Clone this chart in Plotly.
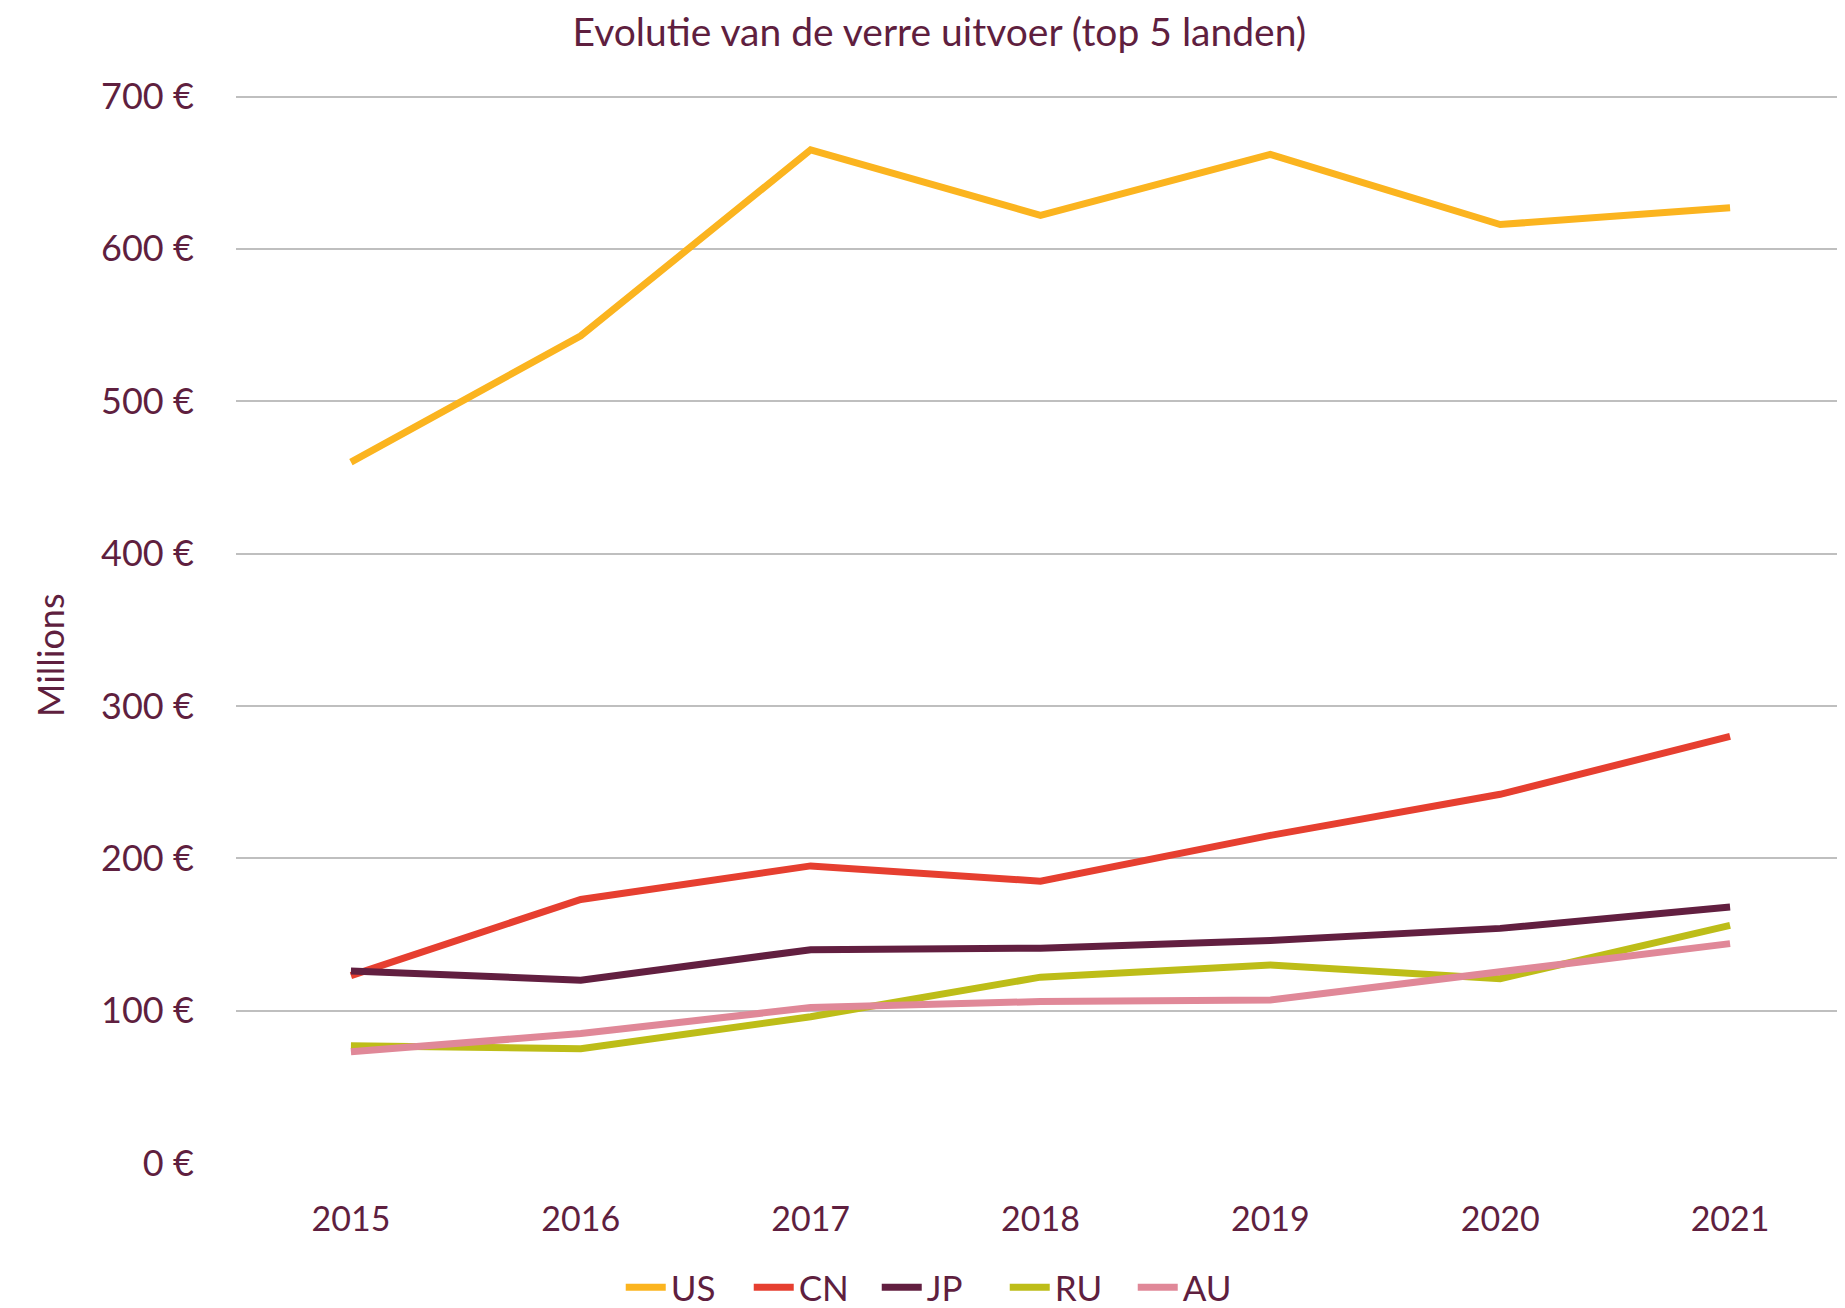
import plotly.graph_objects as go

years = ["2015", "2016", "2017", "2018", "2019", "2020", "2021"]
us = [460, 543, 665, 622, 662, 616, 627]
cn = [123, 173, 195, 185, 215, 242, 280]
jp = [126, 120, 140, 141, 146, 154, 168]
ru = [77, 75, 96, 122, 130, 121, 156]
au = [73, 85, 102, 106, 107, 126, 144]

series = [
    ("US", us, "#FBB41F"),
    ("CN", cn, "#E63F30"),
    ("JP", jp, "#621F40"),
    ("RU", ru, "#BDBD18"),
    ("AU", au, "#E08898"),
]

text_color = "#5F1F3F"
font_family = "Lato, 'Open Sans', sans-serif"

fig = go.Figure()
for name, vals, color in series:
    fig.add_trace(go.Scatter(
        x=years, y=vals, name=name, mode="lines",
        line=dict(color=color, width=7),
    ))

# page body has an 8px margin, so the figure is a bit smaller than the window
fig.update_layout(
    width=1837, height=1300,
    paper_bgcolor="white", plot_bgcolor="white",
    margin=dict(l=228, r=0, t=87, b=145, autoexpand=False),
    font=dict(family=font_family, color=text_color, size=35),
    title=dict(
        text="Evolutie van de verre uitvoer (top 5 landen)",
        x=0.507, xanchor="center", y=0.992, yanchor="top",
        font=dict(size=39, color=text_color),
    ),
    showlegend=True,
    legend=dict(
        orientation="h", x=0.438, xanchor="center",
        y=-0.089, yanchor="top",
        font=dict(size=35, color=text_color),
        entrywidth=73, entrywidthmode="pixels",
        itemwidth=40, tracegroupgap=0,
    ),
    xaxis=dict(
        type="category", range=[-0.5, 6.5], automargin=False,
        showgrid=False, showline=False, zeroline=False,
        ticks="outside", ticklen=26, tickcolor="rgba(0,0,0,0)",
        tickfont=dict(size=34, color=text_color),
    ),
    yaxis=dict(
        range=[0, 701], dtick=100, automargin=False,
        showgrid=True, gridcolor="#BFBFBF", gridwidth=1.5,
        zeroline=False, showline=False,
        ticksuffix=" €",
        ticks="outside", ticklen=34, tickcolor="rgba(0,0,0,0)",
        tickfont=dict(size=36, color=text_color),
    ),
    annotations=[dict(
        text="Millions", textangle=-90,
        xref="paper", yref="paper", x=-0.116, y=0.476,
        xanchor="center", yanchor="middle", showarrow=False,
        font=dict(size=36, color=text_color),
    )],
)

fig.write_html("out.html")
